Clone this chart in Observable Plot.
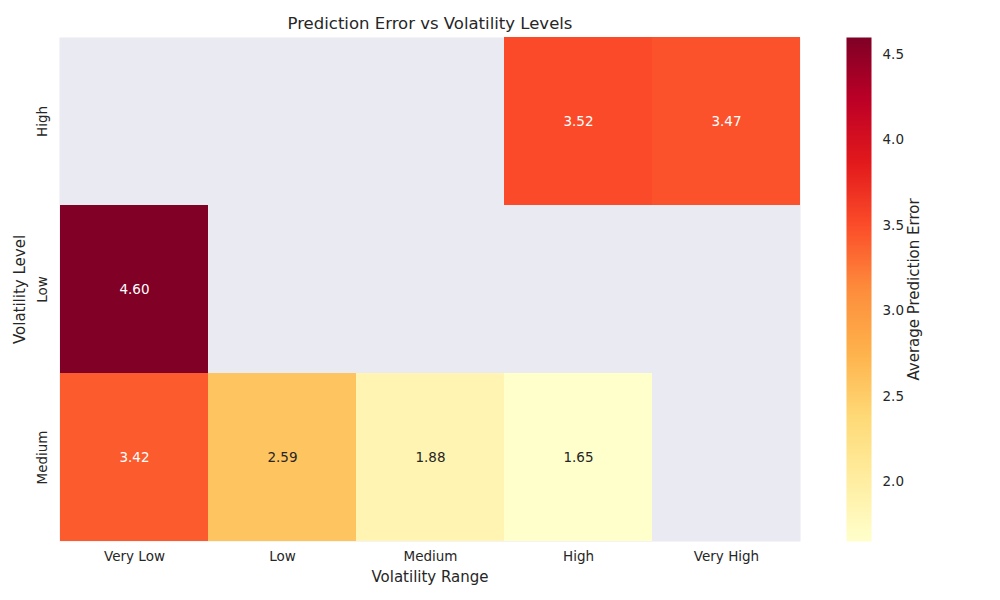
<!DOCTYPE html>
<html>
<head>
<meta charset="utf-8">
<script src="https://cdn.jsdelivr.net/npm/d3@7"></script>
<script src="https://cdn.jsdelivr.net/npm/@observablehq/plot@0.6"></script>
<style>
  html, body { margin: 0; padding: 0; background: #fff; }
  #wrap { position: relative; width: 1000px; height: 600px; font-family: "DejaVu Sans", sans-serif; }
  #wrap svg { position: absolute; top: 0; overflow: visible; }
</style>
</head>
<body>
<div id="wrap"></div>
<script>
// ---- data ----
const rangeCats = ["Very Low", "Low", "Medium", "High", "Very High"];
const levelCats = ["High", "Low", "Medium"];
const cellRange = ["High", "Very High", "Very Low", "Very Low", "Low", "Medium", "High"];
const cellLevel = ["High", "High", "Low", "Medium", "Medium", "Medium", "Medium"];
const cellValue = [3.52, 3.47, 4.60, 3.42, 2.59, 1.88, 1.65];
const cbTicks = [2.0, 2.5, 3.0, 3.5, 4.0, 4.5];

const data = cellValue.map((v, i) => ({range: cellRange[i], level: cellLevel[i], value: v}));
const vmin = d3.min(cellValue), vmax = d3.max(cellValue);

// matplotlib YlOrRd (linear segments between ColorBrewer stops)
const ylorrd = ["#ffffcc","#ffeda0","#fed976","#feb24c","#fd8d3c","#fc4e2a","#e31a1c","#bd0026","#800026"];
const colorScale = {
  type: "linear",
  domain: ylorrd.map((_, i) => vmin + i * (vmax - vmin) / (ylorrd.length - 1)),
  range: ylorrd,
  interpolate: "rgb"
};

const textColor = "#262626";
const tickFont = 13.5;
const labelFont = 15;

const main = Plot.plot({
  width: 830,
  height: 600,
  marginLeft: 59,
  marginRight: 30,
  marginTop: 37,
  marginBottom: 59,
  style: { fontFamily: "DejaVu Sans, sans-serif", fontSize: tickFont + "px", color: textColor, background: "transparent" },
  x: { type: "band", domain: rangeCats, padding: 0, label: null },
  y: { type: "band", domain: levelCats, padding: 0, label: null },
  color: colorScale,
  marks: [
    Plot.frame({ fill: "#EAEAF2", stroke: null }),
    Plot.cell(data, { x: "range", y: "level", fill: "value", inset: 0, shapeRendering: "crispEdges" }),
    Plot.text(data.filter(d => d.value > 3), { x: "range", y: "level", text: d => d.value.toFixed(2), fill: "white", fontSize: tickFont }),
    Plot.text(data.filter(d => d.value <= 3), { x: "range", y: "level", text: d => d.value.toFixed(2), fill: textColor, fontSize: tickFont }),
    Plot.axisX({ tickSize: 0, tickPadding: 10, label: null, fontSize: tickFont }),
    Plot.axisY({ tickSize: 0, tickPadding: 13, tickRotate: -90, label: null, fontSize: tickFont }),
    Plot.text(["Volatility Range"], { frameAnchor: "bottom", lineAnchor: "middle", textAnchor: "middle", dy: 36, fontSize: labelFont, fill: textColor }),
    Plot.text(["Volatility Level"], { frameAnchor: "left", lineAnchor: "middle", textAnchor: "middle", dx: -39, rotate: -90, fontSize: labelFont, fill: textColor }),
    Plot.text(["Prediction Error vs Volatility Levels"], { frameAnchor: "top", lineAnchor: "middle", textAnchor: "middle", dy: -14, fontSize: 16.5, fill: textColor })
  ]
});
main.style.left = "0px";

const cb = Plot.plot({
  width: 140,
  height: 600,
  marginLeft: 0,
  marginRight: 115,
  marginTop: 37,
  marginBottom: 59,
  style: { fontFamily: "DejaVu Sans, sans-serif", fontSize: tickFont + "px", color: textColor, background: "transparent" },
  x: { domain: [0, 1], axis: null },
  y: { domain: [vmin, vmax], axis: null },
  color: colorScale,
  marks: [
    Plot.raster({ x1: 0, x2: 1, y1: vmin, y2: vmax, width: 1, height: 400, fill: (x, y) => y, imageRendering: "auto" }),
    Plot.axisY(cbTicks, { anchor: "right", tickSize: 0, tickPadding: 11, tickFormat: d => d.toFixed(1), label: null, fontSize: tickFont }),
    Plot.text(["Average Prediction Error"], { frameAnchor: "right", lineAnchor: "middle", textAnchor: "middle", dx: 43, rotate: -90, fontSize: labelFont, fill: textColor })
  ]
});
cb.style.left = "846px";

const wrap = document.getElementById("wrap");
wrap.appendChild(main);
wrap.appendChild(cb);
</script>
</body>
</html>
